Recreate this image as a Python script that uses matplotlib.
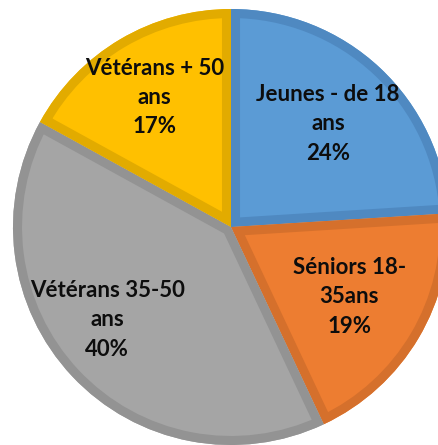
import numpy as np
import matplotlib.pyplot as plt
from matplotlib.patches import Wedge

# categories (clockwise from the top)
labels = ["Jeunes - de 18\nans", "Séniors 18-\n35ans", "Vétérans 35-50\nans", "Vétérans + 50\nans"]
shares = [24, 19, 40, 17]

fill_colors = ["#5B9BD5", "#ED7D31", "#A5A5A5", "#FFC000"]
edge_colors = ["#4F89C1", "#D5702C", "#939393", "#E2AB00"]
label_radius = [0.65, 0.63, 0.71, 0.69]
label_shift = [0, 0, -6.3, 0]  # degrees, from the slice middle

W, H = 438, 445
cx, cy, R = 231, 227, 218

fig = plt.figure(figsize=(W / 100, H / 100), dpi=100)
ax = fig.add_axes([0, 0, 1, 1])

wedges, _ = ax.pie(shares, startangle=90, counterclock=False, radius=R,
                   colors=fill_colors, center=(0, 0), frame=True,
                   wedgeprops=dict(linewidth=0))
ax.set_xlim(-cx, W - cx)
ax.set_ylim(-(H - cy), cy)
ax.axis("off")

# darker inner border on each slice
for w, ec in zip(wedges, edge_colors):
    border = Wedge(w.center, w.r, w.theta1, w.theta2, facecolor="none",
                   edgecolor=ec, linewidth=13, zorder=w.get_zorder() + 0.1)
    ax.add_patch(border)
    border.set_clip_path(w)

for w, lab, pct, lr, sh in zip(wedges, labels, shares, label_radius, label_shift):
    mid = np.deg2rad((w.theta1 + w.theta2) / 2 + sh)
    x = lr * R * np.cos(mid)
    y = lr * R * np.sin(mid)
    ax.text(x, y, f"{lab}\n{pct}%", ha="center", va="center",
            fontsize=16, fontweight="bold", family="Lato",
            color="#0d0d0d", linespacing=1.49, zorder=5)

fig.savefig("out.png", dpi=100)
